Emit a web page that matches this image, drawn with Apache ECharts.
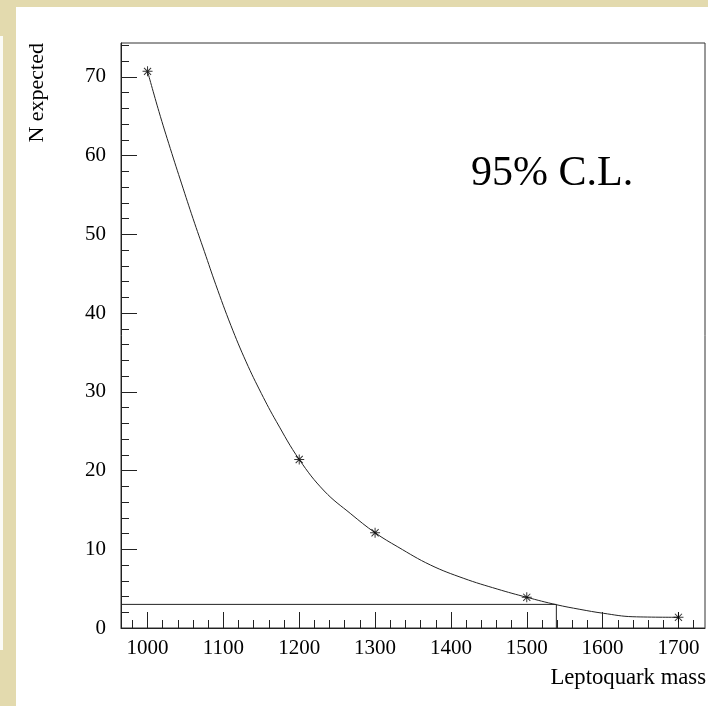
<!DOCTYPE html>
<html>
<head>
<meta charset="utf-8">
<title>N expected vs Leptoquark mass</title>
<script src="https://cdn.jsdelivr.net/npm/echarts@6/dist/echarts.min.js"></script>
<style>
html, body { margin: 0; padding: 0; }
body { width: 708px; height: 706px; position: relative; overflow: hidden; background: #e3daae; }
/* white sheet the plot sits on */
#sheet { position: absolute; left: 16px; top: 7px; right: 0; bottom: 0; background: #fff; }
#strip { position: absolute; left: 0; top: 36px; width: 3px; height: 614px; background: #fbfbf6; }
#chart { position: absolute; left: 0; top: 0; width: 708px; height: 706px; }
</style>
</head>
<body>
<div id="sheet"></div>
<div id="strip"></div>
<div id="chart"></div>
<script>
// computed points (mass, N expected)
const massPoints = [1000, 1200, 1300, 1500, 1700]
const nPoints = [70.7, 21.4, 12.1, 3.9, 1.36]
// fit curve
const curveMass = [1000, 1015, 1030, 1045, 1060, 1075, 1090, 1110, 1130, 1150, 1170, 1200, 1233, 1268, 1300, 1330, 1373, 1417, 1461, 1500, 1539, 1570, 1601, 1640, 1700]
const curveN = [70.7, 65.6, 60.9, 56.4, 52.0, 47.8, 43.6, 38.4, 33.8, 29.8, 26.2, 21.4, 17.4, 14.5, 12.1, 10.3, 8.0, 6.3, 4.95, 3.9, 2.96, 2.37, 1.87, 1.43, 1.36]
// 95% C.L. limit: N = 3 crosses the curve here
const limitN = 3.0
const limitMass = 1539
// tick labels
const xTicks = [1000, 1100, 1200, 1300, 1400, 1500, 1600, 1700]
const yTicks = [0, 10, 20, 30, 40, 50, 60, 70]

// axis ranges
const xMin = 965
const xMax = 1735
const yMin = 0
const yMax = 74.3

// minor ticks every 20 on x, every 2 on y
let xMinor = []
for (let v = 980; v <= 1720; v += 20) if (v % 100 !== 0) xMinor.push(v)
let yMinor = []
for (let v = 2; v <= 74; v += 2) if (v % 10 !== 0) yMinor.push(v)

const serif = 'Liberation Serif'
const ink = '#222'

let chart = echarts.init(document.getElementById('chart'))
chart.setOption({
  animation: false,
  grid: {
    left: 121, top: 43, right: 3, bottom: 78,
    show: true, borderColor: '#333', borderWidth: 1,
  },
  xAxis: [
    {
      type: 'value', min: xMin, max: xMax, position: 'bottom',
      axisLine: { show: true, lineStyle: { color: ink } },
      axisTick: { show: true, inside: true, length: 16, customValues: xTicks, lineStyle: { color: ink } },
      axisLabel: { customValues: xTicks, margin: 10, color: '#000', fontFamily: serif, fontSize: 21, formatter: v => String(v) },
      splitLine: { show: false },
    },
    {
      //minor ticks only
      type: 'value', min: xMin, max: xMax, position: 'bottom',
      axisLine: { show: false },
      axisTick: { show: true, inside: true, length: 8, customValues: xMinor, lineStyle: { color: ink } },
      axisLabel: { show: false },
      splitLine: { show: false },
    },
  ],
  yAxis: [
    {
      type: 'value', min: yMin, max: yMax, position: 'left',
      axisLine: { show: true, lineStyle: { color: ink } },
      axisTick: { show: true, inside: true, length: 16, customValues: yTicks, lineStyle: { color: ink } },
      axisLabel: { customValues: yTicks, margin: 15, color: '#000', fontFamily: serif, fontSize: 21, formatter: v => String(v) },
      splitLine: { show: false },
    },
    {
      type: 'value', min: yMin, max: yMax, position: 'left',
      axisLine: { show: false },
      axisTick: { show: true, inside: true, length: 8, customValues: yMinor, lineStyle: { color: ink } },
      axisLabel: { show: false },
      splitLine: { show: false },
    },
  ],
  series: [
    {
      name: 'fit',
      type: 'line',
      data: curveMass.map((m, i) => [m, curveN[i]]),
      showSymbol: false,
      smooth: 0.4,
      lineStyle: { color: ink, width: 1 },
    },
    {
      name: 'limit',
      type: 'line',
      data: [[xMin, limitN], [limitMass, limitN], [limitMass, yMin]],
      showSymbol: false,
      lineStyle: { color: ink, width: 1 },
    },
    {
      name: 'points',
      type: 'scatter',
      data: massPoints.map((m, i) => [m, nPoints[i]]),
      symbol: 'path://M9,0h2v20h-2z M0,9h20v2h-20z M2.2,3.6l1.4,-1.4l14.2,14.2l-1.4,1.4z M16.4,2.2l1.4,1.4l-14.2,14.2l-1.4,-1.4z',
      symbolSize: 10,
      itemStyle: { color: '#000' },
      z: 5,
    },
  ],
  graphic: [
    {
      type: 'text', x: 471, y: 174,
      style: { text: '95% C.L.', fontFamily: serif, fontSize: 42, fill: '#000', align: 'left', verticalAlign: 'middle' },
    },
    {
      type: 'text', x: 706, y: 678,
      style: { text: 'Leptoquark mass', fontFamily: serif, fontSize: 22.7, fill: '#000', align: 'right', verticalAlign: 'middle' },
    },
    {
      type: 'text', x: 37, y: 43, rotation: Math.PI / 2,
      style: { text: 'N expected', fontFamily: serif, fontSize: 22, fill: '#000', align: 'right', verticalAlign: 'middle' },
    },
  ],
})
</script>
</body>
</html>
